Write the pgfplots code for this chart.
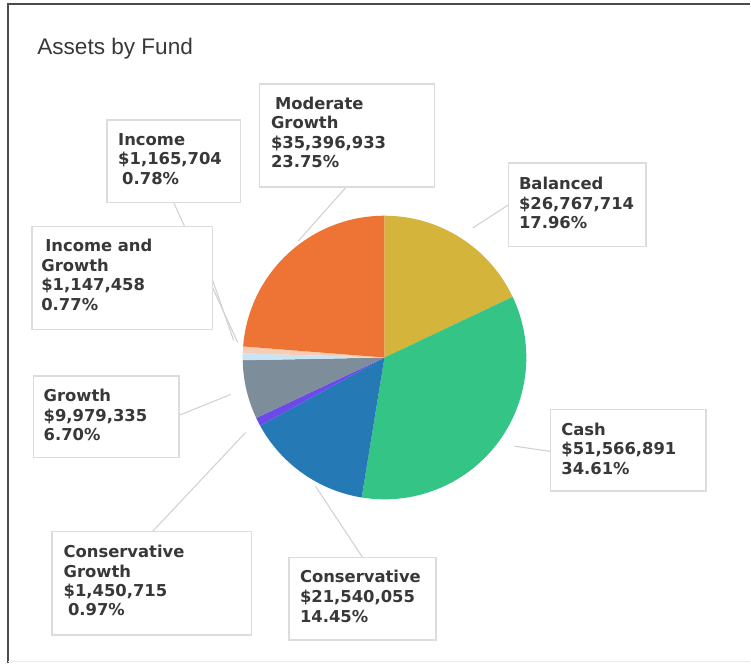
\documentclass[border=0pt]{standalone}
\usepackage{pgfplots}
\pgfplotsset{compat=1.18}
\usepackage{pgfplotstable}
\usepackage{fontspec}
\setmainfont{Liberation Sans}
\newfontfamily\labfont{DejaVu Sans}

\definecolor{cBal}{HTML}{D4B43A}
\definecolor{cCash}{HTML}{34C486}
\definecolor{cCons}{HTML}{2579B5}
\definecolor{cConsG}{HTML}{6A4BEA}
\definecolor{cGrowth}{HTML}{7E8D9A}
\definecolor{cIncG}{HTML}{C9E5F5}
\definecolor{cInc}{HTML}{F8CDB6}
\definecolor{cMod}{HTML}{EE7436}
\definecolor{txt}{HTML}{383838}
\definecolor{boxc}{HTML}{DCDCDC}
\definecolor{linec}{HTML}{D2D2D2}

% fund values in millions of dollars, clockwise from 12 o'clock
\pgfplotstableread{
fund value col
Balanced 26.767714 cBal
Cash 51.566891 cCash
Conservative 21.540055 cCons
ConservativeGrowth 1.450715 cConsG
Growth 9.979335 cGrowth
IncomeAndGrowth 1.147458 cIncG
Income 1.165704 cInc
ModerateGrowth 35.396933 cMod
}\piedata

\pgfplotstablegetrowsof{\piedata}
\pgfmathtruncatemacro\lastrow{\pgfplotsretval-1}
\def\total{0}
\pgfplotsforeachungrouped \i in {0,...,\lastrow}{%
  \pgfplotstablegetelem{\i}{value}\of\piedata
  \pgfmathsetmacro\total{\total+\pgfplotsretval}}

\tikzset{
  lbl/.style={anchor=base west, inner sep=0pt, text=txt,
    font=\labfont\bfseries\fontsize{8.2pt}{9.8pt}\selectfont},
  box/.style={draw=boxc, fill=white, line width=0.75pt},
  conn/.style={draw=linec, line width=0.55pt},
}

\begin{document}
\begin{tikzpicture}
\begin{axis}[width=375.5pt, height=332pt, scale only axis,
  xmin=0, xmax=751, ymin=0, ymax=664, y dir=reverse,
  hide axis, clip=false]

\path (axis cs:0,0) rectangle (axis cs:751,664);
% frame
\draw[color=black!70, line width=1pt] (axis cs:8.5,664) -- (axis cs:8.5,4.5) -- (axis cs:751,4.5);
\draw[color=black!8, line width=0.6pt] (axis cs:8.5,662.5) -- (axis cs:751,662.5);

\node[anchor=base west, inner sep=0pt, text=txt, font=\fontsize{11.3pt}{13pt}\selectfont]
  at (axis cs:37,54.5) {Assets by Fund};

% pie slices
\def\cum{0}
\pgfplotsforeachungrouped \i in {0,...,\lastrow}{%
  \pgfplotstablegetelem{\i}{value}\of\piedata \let\val\pgfplotsretval
  \pgfplotstablegetelem{\i}{col}\of\piedata \let\col\pgfplotsretval
  \pgfmathsetmacro\aa{90-360*(\cum/\total)}
  \pgfmathsetmacro\cum{\cum+\val}
  \pgfmathsetmacro\bb{90-360*(\cum/\total)}
  \edef\tmp{\noexpand\fill[\col] (axis cs:385,358) -- ++(\aa:71pt)
    arc[start angle=\aa, end angle=\bb, radius=71pt] -- cycle;}
  \tmp
}

% connectors
\draw[conn] (axis cs:346.7,187.3) -- (axis cs:298.7,241.3);
\draw[conn] (axis cs:174,203) -- (axis cs:238,343);
\draw[conn] (axis cs:212.7,280) -- (axis cs:234,341);
\draw[conn] (axis cs:509.3,205) -- (axis cs:473.3,228.3);
\draw[conn] (axis cs:551,452) -- (axis cs:515,446.7);
\draw[conn] (axis cs:363,558) -- (axis cs:316,487);
\draw[conn] (axis cs:152,533) -- (axis cs:246,433);
\draw[conn] (axis cs:179,416) -- (axis cs:231,395);

% label boxes
\draw[box] (axis cs:260,84) rectangle (axis cs:435,187);
\draw[box] (axis cs:107,120) rectangle (axis cs:241,203);
\draw[box] (axis cs:32,227) rectangle (axis cs:213,330);
\draw[box] (axis cs:509.3,163.3) rectangle (axis cs:646.7,246.7);
\draw[box] (axis cs:551,410) rectangle (axis cs:706.7,491.7);
\draw[box] (axis cs:289.3,558.3) rectangle (axis cs:436.7,640.7);
\draw[box] (axis cs:52.3,532.3) rectangle (axis cs:251.7,636);
\draw[box] (axis cs:33.3,376.7) rectangle (axis cs:179,458.3);

% label texts
\node[lbl] at (axis cs:275,109.5) {Moderate};
\node[lbl] at (axis cs:271,129) {Growth};
\node[lbl] at (axis cs:271,148.5) {\$35,396,933};
\node[lbl] at (axis cs:271,168) {23.75\%};

\node[lbl] at (axis cs:118,145.5) {Income};
\node[lbl] at (axis cs:118,165) {\$1,165,704};
\node[lbl] at (axis cs:122,184.5) {0.78\%};

\node[lbl] at (axis cs:45,252) {Income and};
\node[lbl] at (axis cs:41,271.5) {Growth};
\node[lbl] at (axis cs:41,291) {\$1,147,458};
\node[lbl] at (axis cs:41,310.5) {0.77\%};

\node[lbl] at (axis cs:519.3,190) {Balanced};
\node[lbl] at (axis cs:519.3,209.5) {\$26,767,714};
\node[lbl] at (axis cs:519.3,229) {17.96\%};

\node[lbl] at (axis cs:561.7,436) {Cash};
\node[lbl] at (axis cs:561.7,455.5) {\$51,566,891};
\node[lbl] at (axis cs:561.7,475) {34.61\%};

\node[lbl] at (axis cs:300,583.3) {Conservative};
\node[lbl] at (axis cs:300,603.3) {\$21,540,055};
\node[lbl] at (axis cs:300,623.3) {14.45\%};

\node[lbl] at (axis cs:63.3,558.3) {Conservative};
\node[lbl] at (axis cs:63.3,578.3) {Growth};
\node[lbl] at (axis cs:63.3,597.7) {\$1,450,715};
\node[lbl] at (axis cs:67.7,616.7) {0.97\%};

\node[lbl] at (axis cs:43.3,401.7) {Growth};
\node[lbl] at (axis cs:43.3,421.7) {\$9,979,335};
\node[lbl] at (axis cs:43.3,441) {6.70\%};
\end{axis}
\end{tikzpicture}
\end{document}
